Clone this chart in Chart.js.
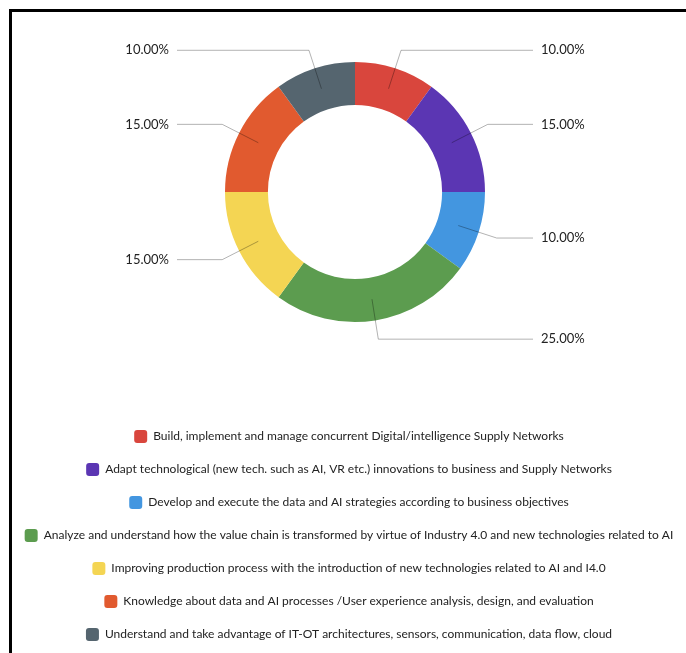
<!DOCTYPE html>
<html>
<head>
<meta charset="utf-8">
<script src="https://cdn.jsdelivr.net/npm/chart.js@4.4.0/dist/chart.umd.min.js"></script>
<style>
    html, body { margin: 0; padding: 0; background: #fff; overflow: hidden; }
    #frame {
        position: absolute; left: 9px; top: 9px;
        width: 800px; height: 800px;
        border: 3px solid #000;
    }
    #wrap { position: absolute; left: 0; top: 0; width: 686px; height: 653px; }
</style>
</head>
<body>
<div id="frame"></div>
<div id="wrap"><canvas id="myChart"></canvas></div>
<script>
const categories = [
    "Build, implement and manage concurrent Digital/intelligence Supply Networks",
    "Adapt technological (new tech. such as AI, VR etc.) innovations to business and Supply Networks",
    "Develop and execute the data and AI strategies according to business objectives",
    "Analyze and understand how the value chain is transformed by virtue of Industry 4.0 and new technologies related to AI",
    "Improving production process with the introduction of new technologies related to AI and I4.0",
    "Knowledge about data and AI processes /User experience analysis, design, and evaluation",
    "Understand and take advantage of IT-OT architectures, sensors, communication, data flow, cloud"
];
const shares = [10, 15, 10, 25, 15, 15, 10];
const colors = ["#d9463d", "#5b36b3", "#4396e0", "#5c9c4f", "#f4d553", "#e15a2f", "#55656f"];

const FONT = "Lato, 'Noto Sans', sans-serif";

// percentage labels outside the ring, with bent leader lines
const outerLabels = {
    id: "outerLabels",
    afterDatasetsDraw(chart) {
        const ctx = chart.ctx;
        const meta = chart.getDatasetMeta(0);
        const values = chart.data.datasets[0].data;
        const total = values.reduce((a, b) => a + b, 0);
        ctx.save();
        ctx.font = "13px " + FONT;
        ctx.textBaseline = "middle";
        meta.data.forEach((arc, i) => {
            const p = arc.getProps(["x", "y", "startAngle", "endAngle", "innerRadius", "outerRadius"], true);
            const mid = (p.startAngle + p.endAngle) / 2;
            const cos = Math.cos(mid), sin = Math.sin(mid);
            const rMid = (p.innerRadius + p.outerRadius) / 2;
            const rBend = p.outerRadius + 19;
            const right = cos >= 0;
            const x1 = p.x + rMid * cos, y1 = p.y + rMid * sin;
            const x2 = p.x + rBend * cos, y2 = p.y + rBend * sin;
            const x3 = right ? p.x + 178 : p.x - 178;
            ctx.strokeStyle = "rgba(0,0,0,0.3)";
            ctx.lineWidth = 1;
            ctx.beginPath();
            ctx.moveTo(x1, y1);
            ctx.lineTo(x2, y2);
            ctx.lineTo(x3, y2);
            ctx.stroke();
            ctx.fillStyle = "#222";
            ctx.textAlign = right ? "left" : "right";
            const txt = (values[i] / total * 100).toFixed(2) + "%";
            ctx.fillText(txt, right ? x3 + 8 : x3 - 8, y2);
        });
        ctx.restore();
    }
};

// the legend sits a little left of the ring's centre
const legendShift = {
    id: "legendShift",
    afterLayout(chart) {
        chart.legend.left -= 6;
        chart.legend.right -= 6;
    }
};

const ctx = document.getElementById("myChart");
const config = {
    type: "doughnut",
    data: {
        labels: categories,
        datasets: [{
            data: shares,
            backgroundColor: colors,
            borderWidth: 0,
            radius: 130,
            cutout: "67%"
        }]
    },
    options: {
        responsive: true,
        maintainAspectRatio: false,
        animation: false,
        layout: {
            padding: { top: 0, bottom: 2, left: 24, right: 0 }
        },
        plugins: {
            legend: {
                position: "bottom",
                title: {
                    display: true,
                    text: "",
                    font: { size: 12, lineHeight: 1 },
                    padding: { top: 0, bottom: 14 }
                },
                labels: {
                    boxWidth: 13,
                    boxHeight: 13,
                    padding: 20,
                    color: "#222",
                    font: { size: 12, family: FONT },
                    useBorderRadius: true,
                    borderRadius: 3
                }
            },
            tooltip: { enabled: false }
        }
    },
    plugins: [outerLabels, legendShift]
};
const chart = new Chart(ctx, config);
</script>
</body>
</html>
